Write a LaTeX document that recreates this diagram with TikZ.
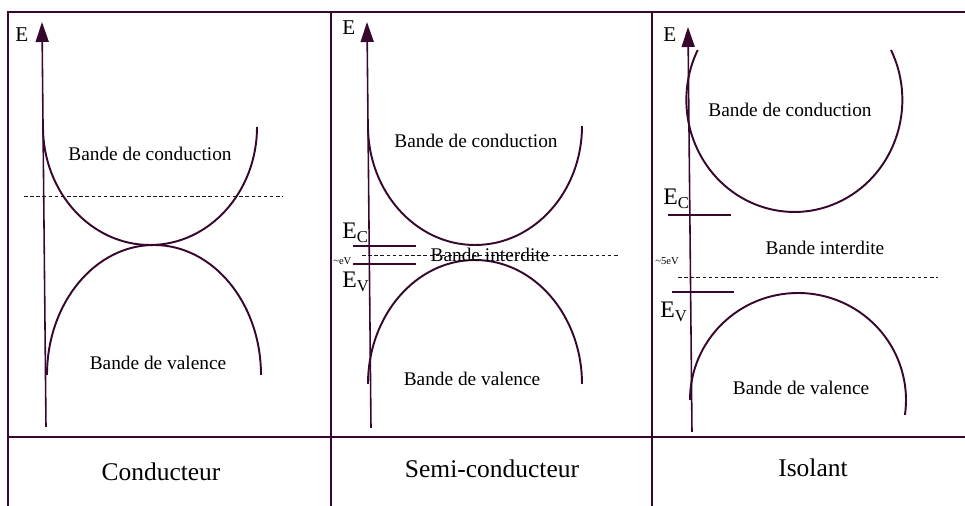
\documentclass[tikz,border=0pt]{standalone}
\usepackage{fontspec}
\setmainfont{Liberation Serif}
\usetikzlibrary{arrows.meta}
\definecolor{mypurple}{RGB}{55,8,45}
\definecolor{mydark}{RGB}{30,20,28}

\tikzset{
  frameline/.style={mypurple,line width=1.2pt},
  eaxis/.style={mypurple,line width=0.9pt,-{Triangle[length=4mm,width=2.6mm]}},
  bandline/.style={mypurple,line width=1.1pt},
  levelline/.style={mypurple,line width=0.9pt},
  fermiline/.style={mydark,line width=0.5pt,dash pattern=on 2pt off 1.5pt},
  bandtext/.style={font=\fontsize{11}{13}\selectfont,inner sep=0pt,anchor=base},
  elabel/.style={font=\fontsize{12}{14}\selectfont,inner sep=0pt,anchor=base west},
  lvlabel/.style={font=\fontsize{13.5}{15}\selectfont,inner sep=0pt,anchor=base west},
  gaplabel/.style={font=\fontsize{6}{7}\selectfont,inner sep=0pt,anchor=base west},
  catlabel/.style={font=\fontsize{14.5}{17}\selectfont,inner sep=0pt,anchor=base}
}

\begin{document}
\begin{tikzpicture}[x=0.02cm,y=-0.02cm]
  \useasboundingbox (0,0) rectangle (965,506);
  % tableau
  \draw[frameline] (8,506) -- (8,12) -- (965,12);
  \draw[frameline] (8,437) -- (965,437);
  \draw[frameline] (331,12) -- (331,506);
  \draw[frameline] (652,12) -- (652,506);

  % conducteur
  \coordinate (axisA0) at (46,427);
  \coordinate (axisA1) at (42,22);
  \draw[eaxis] (axisA0) -- (axisA1);
  \node[elabel] (eA) at (15,42) {E};
  \draw[bandline] (43,127) arc[start angle=180,end angle=0,x radius=107,y radius=118];
  \draw[bandline] (47,375) arc[start angle=180,end angle=360,x radius=107,y radius=130];
  \draw[fermiline] (24,196) -- (283,196);
  \node[bandtext] (condA) at (150,161) {Bande de conduction};
  \node[bandtext] (valA) at (158,370) {Bande de valence};

  % semi-conducteur
  \coordinate (axisB0) at (371,428);
  \coordinate (axisB1) at (367,22);
  \draw[eaxis] (axisB0) -- (axisB1);
  \node[elabel] (eB) at (342,35) {E};
  \draw[bandline] (368,126) arc[start angle=180,end angle=0,x radius=107,y radius=119];
  \draw[bandline] (368,384) arc[start angle=180,end angle=360,x radius=107,y radius=124];
  \draw[levelline] (353,246) -- (416,246);
  \draw[levelline] (353,264) -- (416,264);
  \draw[fermiline] (362,255) -- (620,255);
  \node[lvlabel] (ecB) at (342,239) {E\textsubscript{C}};
  \node[lvlabel] (evB) at (342,288) {E\textsubscript{V}};
  \node[gaplabel] (gapB) at (333,265) {\textasciitilde eV};
  \node[bandtext] (condB) at (476,148) {Bande de conduction};
  \node[bandtext] (gapTextB) at (490,262) {Bande interdite};
  \node[bandtext] (valB) at (472,386) {Bande de valence};

  % isolant
  \coordinate (axisC0) at (692,432);
  \coordinate (axisC1) at (688,27);
  \draw[eaxis] (axisC0) -- (axisC1);
  \node[elabel] (eC) at (663,42) {E};
  \draw[bandline] (891,50) arc[start angle=-26.5,end angle=206.5,x radius=108,y radius=112];
  \draw[bandline] (690,400) arc[start angle=180,end angle=368,x radius=108,y radius=107];
  \draw[levelline] (668,215) -- (731,215);
  \draw[levelline] (672,292) -- (734,292);
  \draw[fermiline] (678,277) -- (938,277);
  \node[lvlabel] (ecC) at (663,205) {E\textsubscript{C}};
  \node[lvlabel] (evC) at (660,318) {E\textsubscript{V}};
  \node[gaplabel] (gapC) at (655,265) {\textasciitilde 5eV};
  \node[bandtext] (condC) at (790,117) {Bande de conduction};
  \node[bandtext] (gapTextC) at (825,255) {Bande interdite};
  \node[bandtext] (valC) at (801,395) {Bande de valence};

  % legendes
  \node[catlabel] (catA) at (161,481) {Conducteur};
  \node[catlabel] (catB) at (492,478) {Semi-conducteur};
  \node[catlabel] (catC) at (813,477) {Isolant};
\end{tikzpicture}
\end{document}
